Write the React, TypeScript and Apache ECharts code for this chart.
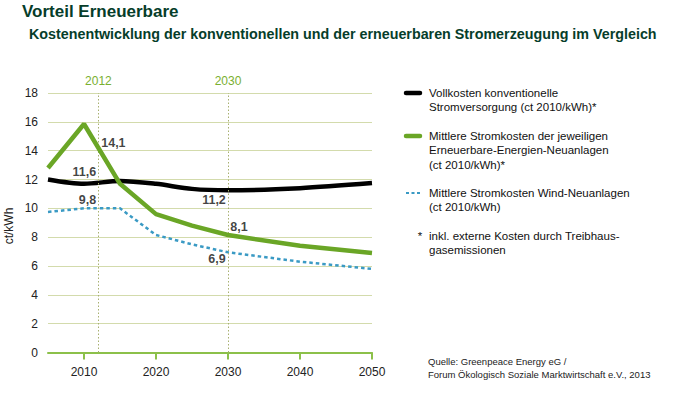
import React, { useEffect, useRef } from "react";
import * as echarts from "echarts";

const years = [2005, 2010, 2015, 2020, 2025, 2030, 2040, 2050];
const konventionell = [12.0, 11.7, 11.9, 11.7, 11.35, 11.25, 11.4, 11.75];
const erneuerbar = [12.8, 15.85, 11.7, 9.6, 8.8, 8.15, 7.4, 6.9];
const wind = [9.75, 10.0, 10.0, 8.15, 7.5, 6.95, 6.3, 5.8];
const xTicks = [2010, 2020, 2030, 2040, 2050];
const markYears = [2012, 2030];

const valueLabels: { year: number; value: number; text: string; offset: [number, number] }[] = [
  { year: 2012, value: 11.6, text: "11,6", offset: [-14, -13] },
  { year: 2012, value: 14.1, text: "14,1", offset: [15, -6] },
  { year: 2012, value: 9.8, text: "9,8", offset: [-11, -11] },
  { year: 2030, value: 11.2, text: "11,2", offset: [-14, 9] },
  { year: 2030, value: 8.1, text: "8,1", offset: [11, -9] },
  { year: 2030, value: 6.9, text: "6,9", offset: [-11, 6] },
];

const legendItems = [
  { color: "#000000", dashed: false, lines: ["Vollkosten konventionelle", "Stromversorgung (ct 2010/kWh)*"] },
  { color: "#6aa626", dashed: false, lines: ["Mittlere Stromkosten der jeweiligen", "Erneuerbare-Energien-Neuanlagen", "(ct 2010/kWh)*"] },
  { color: "#3a9ac4", dashed: true, lines: ["Mittlere Stromkosten Wind-Neuanlagen", "(ct 2010/kWh)"] },
];
const footnote = ["inkl. externe Kosten durch Treibhaus-", "gasemissionen"];
const source = ["Quelle: Greenpeace Energy eG /", "Forum Ökologisch Soziale Marktwirtschaft e.V., 2013"];

const FONT = "Liberation Sans, Arial, sans-serif";

export default function App() {
  const ref = useRef<HTMLDivElement>(null);
  useEffect(() => {
    if (!ref.current) return;
    const chart = echarts.init(ref.current, undefined, { renderer: "svg" });
    const zip = (vals: number[]) => years.map((y, i) => [y, vals[i]]);

    const graphics: any[] = [
      { type: "text", left: 22, top: 3, style: { text: "Vorteil Erneuerbare", font: `bold 17px ${FONT}`, fill: "#063d2a" } },
      { type: "text", left: 29, top: 27, style: { text: "Kostenentwicklung der konventionellen und der erneuerbaren Stromerzeugung im Vergleich", font: `bold 14.3px ${FONT}`, fill: "#063d2a" } },
      { type: "text", x: 9, y: 226, rotation: Math.PI / 2, style: { text: "ct/kWh", font: `12px ${FONT}`, fill: "#222", align: "center", verticalAlign: "middle" } },
    ];
    const starts = [93, 136, 193];
    legendItems.forEach((it, i) => {
      const y0 = starts[i];
      graphics.push({
        type: "line",
        shape: { x1: 406, y1: y0, x2: 420, y2: y0 },
        style: { stroke: it.color, lineWidth: it.dashed ? 2 : 4.5, lineDash: it.dashed ? [3, 2.5] : null, lineCap: it.dashed ? "butt" : "round" },
      });
      it.lines.forEach((t, j) => {
        graphics.push({ type: "text", x: 429, y: y0 + j * 14.3, style: { text: t, font: `11.5px ${FONT}`, fill: "#111", verticalAlign: "middle" } });
      });
    });
    graphics.push({ type: "text", x: 420, y: 236, style: { text: "*", font: `11.5px ${FONT}`, fill: "#111", align: "center", verticalAlign: "middle" } });
    footnote.forEach((t, j) => {
      graphics.push({ type: "text", x: 429, y: 236 + j * 14.3, style: { text: t, font: `11.5px ${FONT}`, fill: "#111", verticalAlign: "middle" } });
    });
    source.forEach((t, j) => {
      graphics.push({ type: "text", x: 428, y: 361 + j * 13.8, style: { text: t, font: `9.5px ${FONT}`, fill: "#222", verticalAlign: "middle" } });
    });

    chart.setOption({
      animation: false,
      backgroundColor: "#ffffff",
      textStyle: { fontFamily: FONT },
      grid: { left: 48, right: 302, top: 93, bottom: 45.5, containLabel: false },
      xAxis: {
        type: "value",
        min: 2005,
        max: 2050,
        axisLine: { show: true, lineStyle: { color: "#8cc04a", width: 2 } },
        axisTick: { show: true, customValues: xTicks, length: 7, lineStyle: { color: "#8cc04a", width: 2 } },
        axisLabel: { customValues: xTicks, color: "#222", fontSize: 12, margin: 13, fontFamily: FONT, formatter: (v: number) => String(v) },
        splitLine: { show: false },
      },
      yAxis: {
        type: "value",
        min: 0,
        max: 18,
        interval: 2,
        axisLine: { show: false },
        axisTick: { show: false },
        axisLabel: { color: "#222", fontSize: 12, margin: 10, fontFamily: FONT },
        splitLine: { show: true, lineStyle: { color: "#d3dbac", width: 1 } },
      },
      series: [
        {
          type: "line",
          data: zip(wind),
          symbol: "none",
          lineStyle: { color: "#3a9ac4", width: 2.5, type: [3.5, 3] },
          z: 3,
          markLine: {
            silent: true,
            symbol: "none",
            lineStyle: { color: "#a8b070", type: [1.5, 2], width: 1 },
            label: { show: true, position: "end", color: "#7ab030", fontSize: 12, distance: 6, formatter: (p: any) => String(p.value) },
            data: markYears.map((y) => ({ xAxis: y })),
          },
        },
        {
          type: "line",
          data: zip(konventionell),
          symbol: "none",
          smooth: 0.3,
          lineStyle: { color: "#000000", width: 4.5 },
          z: 4,
        },
        {
          type: "line",
          data: zip(erneuerbar),
          symbol: "none",
          lineStyle: { color: "#6aa626", width: 4.5 },
          z: 5,
        },
        {
          type: "scatter",
          symbolSize: 0,
          z: 6,
          data: valueLabels.map((l) => ({
            value: [l.year, l.value],
            label: { show: true, position: "inside", formatter: l.text, offset: l.offset, color: "#111", fontWeight: "bold", fontSize: 12.5 },
          })),
        },
      ],
      graphic: graphics,
    });
    return () => chart.dispose();
  }, []);
  return <div ref={ref} style={{ width: 674, height: 398, position: "absolute", left: 0, top: 0 }} />;
}
